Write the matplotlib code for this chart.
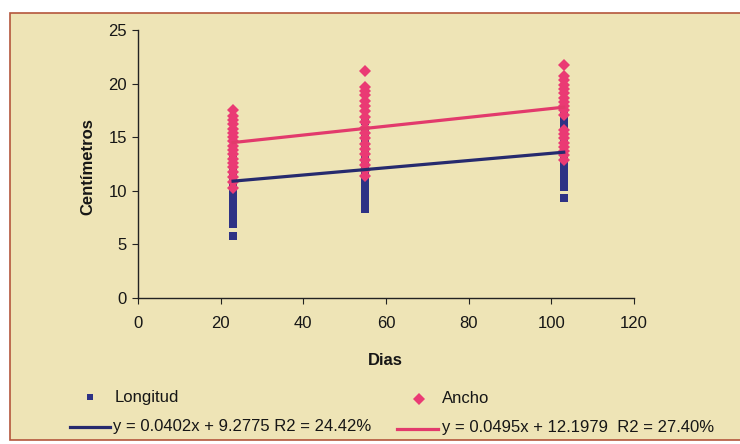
import matplotlib
matplotlib.use("Agg")
import matplotlib.pyplot as plt
from matplotlib.patches import Rectangle
from matplotlib.lines import Line2D

plt.rcParams['font.family'] = ['Liberation Sans', 'DejaVu Sans']

# ---- data ----
days = [23, 55, 103]
longitud = {
    23: [5.8, 6.9, 7.3, 7.7, 8.1, 8.5, 8.9, 9.3, 9.7, 10.1, 10.5, 11.0, 11.5, 12.0, 12.6, 13.2, 14.0],
    55: [8.3, 8.8, 9.3, 9.8, 10.3, 10.8, 11.3, 11.8, 12.3, 12.8, 13.4, 14.0, 14.8, 15.6, 16.5],
    103: [9.3, 10.4, 10.8, 11.2, 11.6, 12.0, 12.4, 12.8, 13.3, 13.8, 14.4, 15.0, 15.6, 16.2, 16.6, 17.0],
}
ancho = {
    23: [10.3, 10.8, 11.3, 11.8, 12.2, 12.6, 13.0, 13.4, 13.8, 14.2, 14.6, 15.0, 15.4, 15.8, 16.2, 16.6, 17.0, 17.5],
    55: [11.4, 11.9, 12.4, 12.9, 13.4, 13.9, 14.4, 14.9, 15.4, 15.9, 16.4, 16.9, 17.4, 17.9, 18.4, 18.9, 19.3, 19.7, 21.2],
    103: [12.9, 13.3, 13.7, 14.1, 14.5, 14.9, 15.3, 15.7, 17.1, 17.5, 17.9, 18.3, 18.7, 19.1, 19.5, 19.9, 20.3, 20.7, 21.7],
}
trend_x = [23, 103]
trend_longitud = [10.9, 13.6]
trend_ancho = [14.5, 17.8]
eq_longitud = "y = 0.0402x + 9.2775 R2 = 24.42%"
eq_ancho = "y = 0.0495x + 12.1979  R2 = 27.40%"
x_ticks = [0, 20, 40, 60, 80, 100, 120]
y_ticks = [0, 5, 10, 15, 20, 25]

BLUE = '#2e3285'
BLUE_LINE = '#262a6e'
PINK = '#ea3a74'
PINK_LINE = '#e23a6c'
BG = '#eee4b6'
TXT = '#161616'

W, H = 740, 444
fig = plt.figure(figsize=(7.4, 4.44), dpi=100)
fig.patch.set_facecolor('white')

# chart area with border
bg = Rectangle((10 / W, (H - 440) / H), 740 / W, (440 - 13) / H,
               transform=fig.transFigure, facecolor=BG,
               edgecolor='#b4563c', linewidth=1.2, zorder=-5)
fig.patches.append(bg)

ax = fig.add_axes([138 / W, (H - 298) / H, (634 - 138) / W, (298 - 30) / H])
ax.set_facecolor('none')
ax.set_zorder(2)

for d in days:
    ax.plot([d] * len(longitud[d]), longitud[d], linestyle='none', marker='s',
            markersize=5.8, color=BLUE, markeredgewidth=0, zorder=2)
for d in days:
    ax.plot([d] * len(ancho[d]), ancho[d], linestyle='none', marker='D',
            markersize=6.2, color=PINK, markeredgewidth=0, zorder=3)

ax.plot(trend_x, trend_longitud, color=BLUE_LINE, linewidth=2.3, zorder=4)
ax.plot(trend_x, trend_ancho, color=PINK_LINE, linewidth=2.3, zorder=4)

ax.set_xlim(0, 120)
ax.set_ylim(0, 25)
ax.set_xticks(x_ticks)
ax.set_yticks(y_ticks)
for s in ['top', 'right']:
    ax.spines[s].set_visible(False)
for s in ['left', 'bottom']:
    ax.spines[s].set_color('#222222')
    ax.spines[s].set_linewidth(1.0)
ax.tick_params(axis='both', direction='out', length=4, color='#222222',
               labelsize=12, labelcolor=TXT)
ax.tick_params(axis='x', pad=9)
ax.tick_params(axis='y', pad=4)

ax.set_ylabel('Centímetros', fontsize=12, fontweight='bold', color=TXT)
ax.yaxis.set_label_coords(-0.085, 0.49)
ax.set_xlabel('Dias', fontsize=12, fontweight='bold', color=TXT)
ax.xaxis.set_label_coords(0.498, -0.205)

# legend (manual)
def fx(px):
    return px / W

def fy(py):
    return (H - py) / H

fig.add_artist(Line2D([fx(90)], [fy(397)], marker='s', markersize=5, color=BLUE,
                      markeredgewidth=0, linestyle='none', transform=fig.transFigure))
fig.text(fx(115), fy(397), 'Longitud', fontsize=12, color=TXT, va='center', ha='left')
fig.add_artist(Line2D([fx(419)], [fy(399)], marker='D', markersize=5.8, color=PINK,
                      markeredgewidth=0, linestyle='none', transform=fig.transFigure))
fig.text(fx(442), fy(398), 'Ancho', fontsize=12, color=TXT, va='center', ha='left')

fig.add_artist(Line2D([fx(70), fx(110)], [fy(427), fy(427)], color=BLUE_LINE,
                      linewidth=2.3, transform=fig.transFigure))
fig.text(fx(113), fy(426), eq_longitud, fontsize=12, color=TXT, va='center', ha='left')
fig.add_artist(Line2D([fx(397), fx(438)], [fy(429), fy(429)], color=PINK_LINE,
                      linewidth=2.3, transform=fig.transFigure))
fig.text(fx(442), fy(427), eq_ancho, fontsize=12, color=TXT, va='center', ha='left')

fig.savefig('out.png', dpi=100)
